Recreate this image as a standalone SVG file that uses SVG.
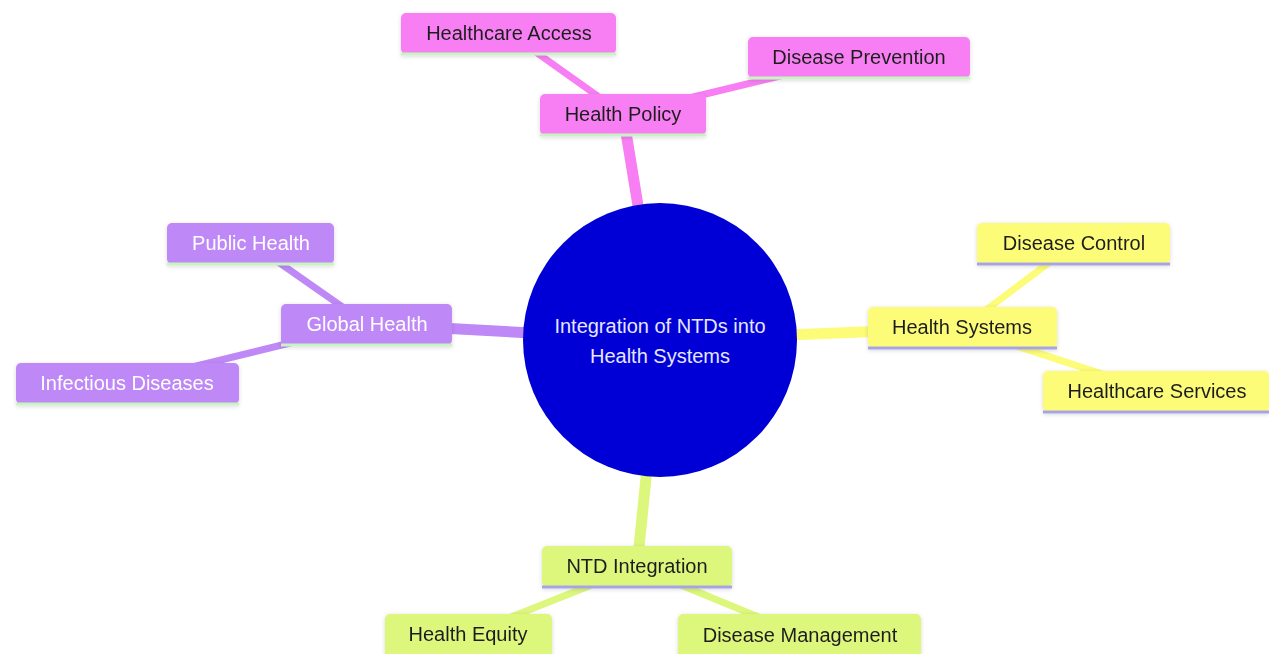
<svg xmlns="http://www.w3.org/2000/svg" width="1269" height="654" viewBox="0 0 1269 654">
<style>
  text { font-family: "Liberation Sans", Arial, sans-serif; font-size: 20px; text-anchor: middle; dominant-baseline: central; }
  .dark { fill: #1f1f1f; }
  .light { fill: #ffffff; }
  .pink { fill: #f77ff3; }
  .purple { fill: #bf88f7; }
  .yellow { fill: #fcfc78; }
  .green { fill: #dcf77c; }
  .lg { stroke: #c9f3c4; stroke-width: 3; }
  .lv { stroke: #a7a4e6; stroke-width: 3; }
  .e-pink { stroke: #f77ff3; }
  .e-purple { stroke: #bf88f7; }
  .e-yellow { stroke: #fcfc78; }
  .e-green { stroke: #dcf77c; }
  .root-e { stroke-width: 11; stroke-linecap: butt; }
  .child-e { stroke-width: 7; stroke-linecap: butt; }
</style>
<defs>
  <filter id="sh" x="-20%" y="-30%" width="140%" height="170%">
    <feDropShadow dx="0" dy="1" stdDeviation="2" flood-color="#000" flood-opacity="0.15"/>
  </filter>
</defs>
<rect width="1269" height="654" fill="#ffffff"/>
<g id="connectors">
  <line class="e-pink root-e" x1="623" y1="114" x2="660" y2="340"/>
  <line class="e-pink child-e" x1="509" y1="33" x2="623" y2="114"/>
  <line class="e-pink child-e" x1="859" y1="57" x2="623" y2="114"/>
  <line class="e-purple root-e" x1="367" y1="324" x2="660" y2="340"/>
  <line class="e-purple child-e" x1="251" y1="243" x2="367" y2="324"/>
  <line class="e-purple child-e" x1="127" y1="383" x2="367" y2="324"/>
  <line class="e-yellow root-e" x1="962" y1="328" x2="660" y2="340"/>
  <line class="e-yellow child-e" x1="1074" y1="244" x2="962" y2="328"/>
  <line class="e-yellow child-e" x1="1157" y1="392" x2="962" y2="328"/>
  <line class="e-green root-e" x1="637" y1="567" x2="660" y2="340"/>
  <line class="e-green child-e" x1="468" y1="634" x2="637" y2="567"/>
  <line class="e-green child-e" x1="800" y1="634" x2="637" y2="567"/>
</g>
<g id="root">
  <circle cx="660" cy="340" r="137" fill="#0000d6"/>
  <text x="660" y="326" fill="#e6e6ff">Integration of NTDs into</text>
  <text x="660" y="356" fill="#e6e6ff">Health Systems</text>
</g>
<g id="health-policy" filter="url(#sh)">
  <rect class="pink" x="540" y="94" width="166" height="41" rx="5"/>
  <line class="lg" x1="540" y1="135" x2="706" y2="135"/>
  <text class="dark" x="623" y="114">Health Policy</text>
</g>
<g id="healthcare-access" filter="url(#sh)">
  <rect class="pink" x="401" y="13" width="215" height="41" rx="5"/>
  <line class="lg" x1="401" y1="54" x2="616" y2="54"/>
  <text class="dark" x="509" y="33">Healthcare Access</text>
</g>
<g id="disease-prevention" filter="url(#sh)">
  <rect class="pink" x="748" y="37" width="222" height="41" rx="5"/>
  <line class="lg" x1="748" y1="78" x2="970" y2="78"/>
  <text class="dark" x="859" y="57">Disease Prevention</text>
</g>
<g id="global-health" filter="url(#sh)">
  <rect class="purple" x="281" y="304" width="171" height="41" rx="5"/>
  <line class="lg" x1="281" y1="345" x2="452" y2="345"/>
  <text class="light" x="367" y="324">Global Health</text>
</g>
<g id="public-health" filter="url(#sh)">
  <rect class="purple" x="167" y="223" width="167" height="41" rx="5"/>
  <line class="lg" x1="167" y1="264" x2="334" y2="264"/>
  <text class="light" x="251" y="243">Public Health</text>
</g>
<g id="infectious-diseases" filter="url(#sh)">
  <rect class="purple" x="16" y="363" width="223" height="41" rx="5"/>
  <line class="lg" x1="16" y1="404" x2="239" y2="404"/>
  <text class="light" x="127" y="383">Infectious Diseases</text>
</g>
<g id="health-systems" filter="url(#sh)">
  <rect class="yellow" x="868" y="307" width="189" height="41" rx="5"/>
  <line class="lv" x1="868" y1="348" x2="1057" y2="348"/>
  <text class="dark" x="962" y="327">Health Systems</text>
</g>
<g id="disease-control" filter="url(#sh)">
  <rect class="yellow" x="977" y="223" width="193" height="41" rx="5"/>
  <line class="lv" x1="977" y1="264" x2="1170" y2="264"/>
  <text class="dark" x="1074" y="243">Disease Control</text>
</g>
<g id="healthcare-services" filter="url(#sh)">
  <rect class="yellow" x="1043" y="371" width="226" height="41" rx="5"/>
  <line class="lv" x1="1043" y1="412" x2="1269" y2="412"/>
  <text class="dark" x="1157" y="391">Healthcare Services</text>
</g>
<g id="ntd-integration" filter="url(#sh)">
  <rect class="green" x="542" y="546" width="190" height="41" rx="5"/>
  <line class="lv" x1="542" y1="587" x2="732" y2="587"/>
  <text class="dark" x="637" y="566">NTD Integration</text>
</g>
<g id="health-equity" filter="url(#sh)">
  <rect class="green" x="385" y="614" width="167" height="45" rx="5"/>
  <text class="dark" x="468" y="634">Health Equity</text>
</g>
<g id="disease-management" filter="url(#sh)">
  <rect class="green" x="678" y="614" width="243" height="45" rx="5"/>
  <text class="dark" x="800" y="635">Disease Management</text>
</g>
</svg>
